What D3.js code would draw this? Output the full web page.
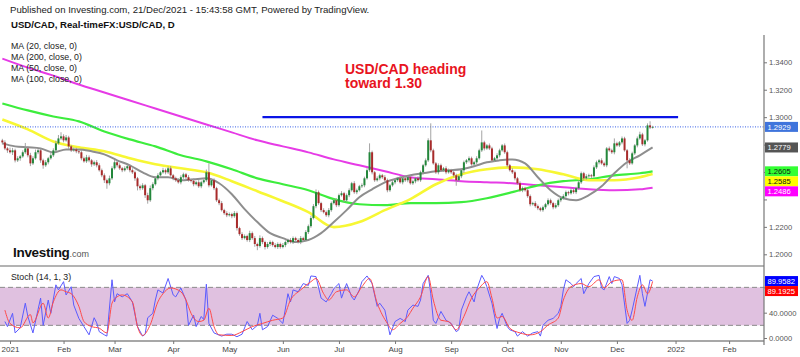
<!DOCTYPE html>
<html><head><meta charset="utf-8">
<script src="https://cdnjs.cloudflare.com/ajax/libs/d3/7.8.5/d3.min.js"></script>
<style>body{margin:0;background:#fff;}svg{display:block;font-family:"Liberation Sans",Arial,sans-serif;}</style>
</head><body><svg id="c" width="800" height="357"></svg>
<script>
// ---------------- DATA ----------------
const firstDate = "2020-12-29";
const firstOpen = 1.2830;
const closes = [
1.2816,1.2772,1.2758,1.2744,1.2758,1.2685,1.2700,1.2714,1.2744,1.2772,
1.2722,1.2663,1.2700,1.2744,1.2758,1.2685,1.2649,1.2671,1.2700,1.2722,
1.2758,1.2809,1.2845,1.2860,1.2831,1.2852,1.2787,1.2758,1.2765,1.2751,
1.2744,1.2700,1.2678,1.2707,1.2685,1.2656,1.2671,1.2649,1.2613,1.2576,
1.2540,1.2518,1.2554,1.2627,1.2671,1.2649,1.2627,1.2613,1.2627,1.2642,
1.2613,1.2598,1.2554,1.2496,
1.2482,1.2503,1.2431,1.2394,1.2482,1.2511,1.2554,1.2576,1.2598,1.2613,
1.2598,1.2627,1.2576,1.2554,1.2540,1.2525,1.2562,1.2583,1.2562,1.2540,
1.2536,1.2511,1.2525,1.2496,1.2525,1.2540,1.2598,1.2503,1.2540,1.2482,
1.2394,1.2373,1.2322,1.2300,1.2285,1.2293,1.2278,1.2300,1.2191,1.2147,
1.2118,1.2133,1.2104,1.2154,1.2118,1.2075,1.2060,1.2118,1.2089,1.2053,
1.2075,
1.2089,1.2067,1.2053,1.2075,1.2053,1.2067,1.2089,1.2104,1.2089,1.2118,
1.2104,1.2089,1.2118,1.2104,1.2162,1.2205,1.2264,1.2351,1.2453,1.2373,
1.2322,1.2307,1.2285,1.2322,1.2373,1.2394,1.2358,1.2431,1.2445,1.2394,
1.2431,1.2467,1.2518,1.2453,1.2467,1.2496,1.2503,1.2554,1.2613,1.2744,
1.2598,1.2540,1.2554,1.2576,1.2562,1.2540,1.2467,1.2503,1.2525,1.2540,
1.2554,1.2525,1.2554,
1.2540,1.2562,1.2518,1.2532,1.2554,1.2540,1.2598,1.2649,1.2685,1.2831,
1.2758,1.2663,1.2598,1.2649,1.2613,1.2627,1.2598,1.2613,1.2598,1.2576,
1.2540,1.2569,1.2613,1.2671,1.2685,1.2700,1.2656,1.2671,1.2700,1.2758,
1.2816,1.2772,1.2794,1.2772,1.2685,1.2700,1.2722,1.2758,1.2794,1.2744,
1.2649,1.2613,1.2598,1.2554,1.2518,1.2467,1.2482,1.2467,1.2424,1.2365,
1.2373,1.2351,1.2336,1.2322,
1.2343,1.2365,1.2394,1.2373,1.2343,1.2358,1.2394,1.2409,1.2424,1.2453,
1.2445,1.2467,1.2453,1.2482,1.2525,1.2591,1.2554,1.2569,1.2576,1.2569,
1.2634,1.2671,1.2685,1.2663,1.2649,1.2772,1.2758,1.2744,1.2809,1.2794,
1.2816,1.2845,1.2758,1.2685,1.2663,1.2736,1.2794,1.2845,1.2874,1.2802,
1.2831,1.2940,1.2925,1.2929];
// wick lengths above / below the candle body, in pips
const upperWickPips = [
12,15,10,20,18,12,15,10,14,40,12,18,15,20,10,14,12,16,10,22,15,20,25,30,15,18,12,10,14,12,10,15,12,18,14,10,12,16,15,12,14,12,20,15,18,12,14,10,15,12,10,14,12,10,
12,15,10,18,20,14,12,15,10,18,12,14,16,10,12,15,14,12,10,15,12,14,10,16,12,15,20,65,12,14,10,12,15,10,14,12,10,15,12,10,14,12,10,18,12,15,10,20,12,10,14,
12,10,14,12,10,15,12,10,14,12,10,12,15,10,14,12,18,15,20,12,10,14,12,15,12,10,14,12,15,10,12,14,10,15,12,10,14,12,15,65,12,10,14,12,10,15,12,10,14,12,10,15,12,
12,10,14,12,10,15,12,10,14,15,124,12,10,14,12,10,15,12,10,14,12,10,15,12,10,14,12,10,15,12,87,12,10,14,12,10,15,12,10,14,12,10,15,12,10,14,12,10,15,12,10,14,12,10,
12,10,14,12,10,15,12,10,14,12,10,15,12,10,14,12,10,15,12,10,14,12,10,15,12,10,14,12,36,12,10,14,12,10,15,12,10,14,20,12,10,15,30,8];
const lowerWickPips = [
15,12,18,10,20,15,12,18,10,12,15,20,12,10,14,18,25,12,15,10,12,14,10,12,15,10,18,12,10,14,12,15,10,12,14,18,12,15,10,14,20,40,15,12,10,15,12,14,10,12,15,12,18,30,
15,12,20,25,12,15,10,14,12,10,15,12,10,14,12,10,15,12,14,10,12,15,10,12,14,10,12,15,10,14,12,15,10,12,14,10,15,12,18,12,14,10,12,15,12,20,30,12,15,18,12,
15,12,10,14,12,10,15,12,10,14,12,10,15,12,10,14,12,10,15,12,14,10,12,15,12,10,14,12,10,15,12,14,10,12,15,10,12,14,10,12,15,12,10,14,12,10,15,12,10,14,12,10,15,
12,15,10,12,14,10,12,15,10,12,14,10,12,15,10,12,14,10,12,15,40,12,14,20,12,15,10,12,14,10,12,15,10,12,14,10,12,15,10,12,14,10,12,15,10,12,14,10,12,15,10,12,14,10,
12,14,10,12,15,10,12,14,10,12,15,10,12,14,10,12,15,10,12,14,10,12,15,10,12,14,10,12,15,10,12,14,10,58,12,10,12,14,10,12,15,10,12,8];

// moving averages, sampled at weekday indices (0 = 1 Jan 2021)
const maSlowIdx = [-3,7,17,27,37,47,57,67,77,87,97,107,117,127,137,147,157,167,177,187,197,207,217,227,237,247,252];
const ma200 = [1.3427,1.3361,1.3303,1.3238,1.3180,1.3121,1.3063,1.3005,1.2947,1.2889,1.2831,1.2787,1.2743,1.2692,1.2649,1.2605,1.2562,1.2547,1.2533,1.2525,1.2518,1.2503,1.2489,1.2474,1.2467,1.2474,1.2486];
const ma100 = [1.3100,1.3049,1.3005,1.2969,1.2896,1.2838,1.2787,1.2722,1.2678,1.2620,1.2554,1.2511,1.2467,1.2402,1.2365,1.2358,1.2373,1.2373,1.2380,1.2409,1.2453,1.2503,1.2533,1.2547,1.2576,1.2591,1.2605];
const ma50  = [1.2983,1.2911,1.2823,1.2780,1.2751,1.2700,1.2656,1.2627,1.2598,1.2533,1.2460,1.2387,1.2307,1.2198,1.2235,1.2322,1.2402,1.2511,1.2583,1.2620,1.2634,1.2620,1.2583,1.2540,1.2540,1.2562,1.2585];
const ma20Idx = [-3,2,7,12,17,22,27,32,37,42,47,52,57,62,67,72,77,82,87,92,97,102,107,112,117,122,127,132,137,142,147,152,157,162,167,172,177,182,187,192,197,202,207,212,217,222,227,232,237,242,247,252];
const ma20 = [1.2809,1.2787,1.2780,1.2772,1.2743,1.2765,1.2765,1.2751,1.2729,1.2685,1.2649,1.2598,1.2562,1.2562,1.2540,1.2547,1.2554,1.2518,1.2438,1.2329,1.2235,1.2154,1.2118,1.2089,1.2104,1.2154,1.2235,1.2322,1.2416,1.2474,1.2525,1.2554,1.2576,1.2591,1.2605,1.2613,1.2620,1.2642,1.2671,1.2685,1.2692,1.2663,1.2562,1.2467,1.2409,1.2394,1.2431,1.2496,1.2591,1.2671,1.2722,1.2779];

// stochastic (14,1,3): [weekday index, value]
const stochK = [[-2,26],[-1,18],[1,39],[2,8],[4,16],[6,55],[7,34],[9,8],[11,45],[12,63],[13,20],[15,60],[16,39],[18,84],[19,76],[21,89],[22,68],[24,81],[25,52],[27,31],[29,18],[31,5],[33,32],[34,24],[35,10],[37,5],[38,3],[40,92],[41,57],[42,70],[44,65],[46,70],[48,57],[50,18],[52,3],[53,6],[54,32],[56,39],[57,60],[58,76],[60,71],[62,94],[64,68],[65,65],[67,79],[69,60],[70,20],[72,36],[73,18],[75,34],[76,29],[77,85],[78,23],[80,8],[83,3],[85,6],[87,6],[89,2],[91,6],[93,26],[95,13],[97,20],[98,39],[99,13],[101,18],[103,36],[105,31],[107,23],[109,70],[110,57],[111,76],[113,73],[115,86],[117,83],[118,98],[120,97],[122,63],[124,57],[126,70],[127,78],[129,86],[130,63],[132,86],[134,65],[135,60],[137,76],[138,89],[140,98],[142,86],[144,50],[145,55],[147,44],[149,5],[151,26],[153,31],[155,26],[156,44],[158,52],[160,50],[161,60],[162,86],[164,99],[165,70],[166,28],[167,23],[169,42],[171,28],[173,23],[175,10],[176,13],[177,44],[179,65],[180,73],[182,57],[183,76],[185,99],[186,92],[187,81],[189,55],[191,15],[192,31],[193,39],[195,18],[196,13],[198,10],[199,3],[201,10],[203,3],[205,8],[207,10],[208,3],[209,20],[211,28],[213,31],[215,39],[216,50],[217,76],[218,92],[220,86],[221,81],[222,86],[224,94],[225,70],[227,86],[229,97],[231,99],[232,79],[233,76],[235,97],[236,86],[237,97],[239,94],[240,84],[242,23],[243,28],[244,44],[246,81],[247,99],[248,70],[249,50],[251,92],[252,89.9582]];
const stochD = [[-2,44],[0,23],[4,16],[8,37],[9,24],[13,55],[15,31.5],[17,57],[20,76],[22,73],[24,70],[27,50],[29,26],[32,18],[35,15.5],[38,8],[40,55],[42,65],[44,68],[48,57],[50,18],[52,4],[55,21],[58,57],[60,70],[63,79],[67,73],[69,60],[71,39],[74,26],[76,28],[78,47],[80,18],[82,5],[87,4],[91,10],[95,18],[99,23],[103,28],[107,31.5],[110,60],[114,76],[118,89],[120,94],[123,70],[125,60],[128,73],[132,76],[135,65],[138,81],[141,94],[144,55],[148,23],[150,13],[153,23],[156,34],[158,47],[161,65],[164,97],[166,60],[169,28],[172,26],[175,13],[178,34],[181,63],[184,79],[187,89],[189,63],[191,31.5],[193,34],[196,15.5],[200,8],[204,5],[208,10],[211,20.5],[215,31.5],[217,60],[220,81],[224,86],[227,81],[231,92],[233,79],[236,89],[240,92],[242,44],[244,28],[246,65],[248,84],[250,70],[252,89.1925]];

const priceTicks = [1.20,1.22,1.24,1.26,1.28,1.30,1.32,1.34];
const stochTicks = [0,40,80];
const stochBand = [20,80];
const monthTicks = [["2021-01-01","2021"],["2021-02-01","Feb"],["2021-03-01","Mar"],["2021-04-01","Apr"],["2021-05-03","May"],["2021-06-01","Jun"],["2021-07-01","Jul"],["2021-08-02","Aug"],["2021-09-01","Sep"],["2021-10-01","Oct"],["2021-11-01","Nov"],["2021-12-01","Dec"],["2022-01-03","2022"],["2022-02-01","Feb"]];
const resistance = [["2021-05-20",1.30],["2022-01-04",1.30]];
const legendItems = ["MA (20, close, 0)","MA (200, close, 0)","MA (50, close, 0)","MA (100, close, 0)"];
const lastPrice = 1.2929;
const lastMA = [["ma20",1.2779],["ma100",1.2605],["ma50",1.2585],["ma200",1.2486]];

// ---------------- HELPERS ----------------
function wd(s){
  const [y,m,d]=s.split("-").map(Number);
  const days=Math.round((Date.UTC(y,m-1,d)-Date.UTC(2021,0,1))/864e5);
  let n=0;
  if(days>=0){for(let k=0;k<days;k++){const w=(5+k)%7;if(w!==0&&w!==6)n++;}}
  else{for(let k=-1;k>=days;k--){const w=((5+k)%7+7)%7;if(w!==0&&w!==6)n--;}}
  return n;
}
const W=800,H=357, AX=764;
const svg=d3.select("#c");
svg.append("rect").attr("width",W).attr("height",H).attr("fill","#fff");

const x=d3.scaleLinear().domain([0,261]).range([10,675.55]);
const y=d3.scaleLinear().domain([1.20,1.34]).range([254.3,62.3]);
const ys=d3.scaleLinear().domain([0,100]).range([338,274.7]);

const defs=svg.append("defs");
defs.append("clipPath").attr("id","mainClip").append("rect").attr("x",0).attr("y",34).attr("width",AX).attr("height",231);
defs.append("clipPath").attr("id","stClip").append("rect").attr("x",0).attr("y",267).attr("width",AX).attr("height",74);

const colors={ma20:"#8e8e8e",ma200:"#e63be6",ma50:"#f7f734",ma100:"#3ded3d"};

// ---------------- MAIN PANEL ----------------
const main=svg.append("g").attr("clip-path","url(#mainClip)");
const start=wd(firstDate);
const candles=closes.map((c,j)=>{
  const o=j===0?firstOpen:closes[j-1];
  return {i:start+j,o,c,h:Math.max(o,c)+upperWickPips[j]/1e4,l:Math.min(o,c)-lowerWickPips[j]/1e4};
});

function maLine(idx,vals,key,w){
  main.append("path").datum(idx.map((d,k)=>[d,vals[k]]))
   .attr("d",d3.line().x(d=>x(d[0])).y(d=>y(d[1])).curve(d3.curveMonotoneX))
   .attr("fill","none").attr("stroke",colors[key]).attr("stroke-width",w);
}
maLine(maSlowIdx,ma200,"ma200",2);
maLine(maSlowIdx,ma100,"ma100",2.2);
maLine(maSlowIdx,ma50,"ma50",2.6);
maLine(ma20Idx,ma20,"ma20",2);

main.append("line").attr("x1",0).attr("x2",AX).attr("y1",y(lastPrice)).attr("y2",y(lastPrice))
  .attr("stroke","#3a62e6").attr("stroke-width",1).attr("stroke-dasharray","1,1.5");

const cg=main.append("g");
cg.selectAll("line.w").data(candles).join("line").attr("class","w")
  .attr("x1",d=>x(d.i)).attr("x2",d=>x(d.i)).attr("y1",d=>y(d.h)).attr("y2",d=>y(d.l))
  .attr("stroke","#9a9a9a").attr("stroke-width",0.9);
cg.selectAll("rect").data(candles).join("rect")
  .attr("x",d=>x(d.i)-1).attr("width",2)
  .attr("y",d=>y(Math.max(d.o,d.c)))
  .attr("height",d=>Math.max(0.8,Math.abs(y(d.o)-y(d.c))))
  .attr("fill",d=>d.c>=d.o?"#23873b":"#a82b2b");

svg.append("line").attr("x1",x(wd(resistance[0][0]))).attr("x2",x(wd(resistance[1][0])))
  .attr("y1",y(resistance[0][1])).attr("y2",y(resistance[1][1]))
  .attr("stroke","#0a14e6").attr("stroke-width",2.4);

const ann=svg.append("text").attr("fill","#e8141e").attr("font-weight","bold").attr("font-size",14);
ann.append("tspan").attr("x",345).attr("y",73.5).text("USD/CAD heading");
ann.append("tspan").attr("x",345).attr("y",88).text("toward 1.30");

// ---------------- STOCH PANEL ----------------
const st=svg.append("g").attr("clip-path","url(#stClip)");
st.append("rect").attr("x",0).attr("width",AX).attr("y",ys(stochBand[1])).attr("height",ys(stochBand[0])-ys(stochBand[1])).attr("fill","#e0c1e0");
stochBand.forEach(v=>st.append("line").attr("x1",0).attr("x2",AX).attr("y1",ys(v)).attr("y2",ys(v))
  .attr("stroke","#8a8a8a").attr("stroke-width",1).attr("stroke-dasharray","5,3"));
const sl=d3.line().x(d=>x(d[0])).y(d=>ys(d[1]));
st.append("path").datum(stochK).attr("d",sl).attr("fill","none").attr("stroke","#5b5bff").attr("stroke-width",1);
st.append("path").datum(stochD).attr("d",sl.curve(d3.curveMonotoneX)).attr("fill","none").attr("stroke","#ff4a4a").attr("stroke-width",1);

// ---------------- FRAME / AXES ----------------
svg.append("line").attr("x1",0).attr("x2",AX).attr("y1",266).attr("y2",266).attr("stroke","#9a9a9a").attr("stroke-width",1.5);
svg.append("line").attr("x1",0).attr("x2",AX).attr("y1",341).attr("y2",341).attr("stroke","#8a8a8a").attr("stroke-width",1.5);
svg.append("line").attr("x1",AX).attr("x2",AX).attr("y1",35).attr("y2",345).attr("stroke","#777").attr("stroke-width",1.2);

// value boxes (simple collision avoidance), computed first so covered tick labels can be hidden
function layoutBoxes(items,minGap){
  items.sort((a,b)=>a.y-b.y);
  for(let k=1;k<items.length;k++) if(items[k].y-items[k-1].y<minGap) items[k].y=items[k-1].y+minGap;
  return items;
}
const maBg={ma20:["#555","#fff"],ma100:["#33ff33","#111"],ma50:["#ffff00","#111"],ma200:["#ff00ff","#fff"]};
const priceBoxes=layoutBoxes([{y:y(lastPrice),bg:"#3f74dc",fg:"#fff",txt:lastPrice.toFixed(4)}]
  .concat(lastMA.map(d=>({y:y(d[1]),bg:maBg[d[0]][0],fg:maBg[d[0]][1],txt:d[1].toFixed(4)}))),10);
const lk=stochK[stochK.length-1][1], ld=stochD[stochD.length-1][1];
const stBoxes=layoutBoxes([{y:ys(lk),bg:"#0000ff",fg:"#fff",txt:lk.toFixed(4)},{y:ys(ld),bg:"#ff0000",fg:"#fff",txt:ld.toFixed(4)}],10);
const covered=(py,bx)=>bx.some(b=>Math.abs(b.y-py)<9);

const pa=svg.append("g").attr("transform",`translate(${AX},0)`)
  .call(d3.axisRight(y).tickValues(priceTicks).tickFormat(d3.format(".4f")).tickSize(3).tickPadding(2));
pa.select(".domain").remove();
pa.selectAll("text").attr("font-size",7.6).attr("fill","#555").attr("font-family","Liberation Sans, Arial")
  .filter(d=>covered(y(d),priceBoxes)).remove();
pa.selectAll("line").attr("stroke","#777");

const sa=svg.append("g").attr("transform",`translate(${AX},0)`)
  .call(d3.axisRight(ys).tickValues(stochTicks).tickFormat(d3.format(".4f")).tickSize(3).tickPadding(2));
sa.select(".domain").remove();
sa.selectAll("text").attr("font-size",7.6).attr("fill","#555").attr("font-family","Liberation Sans, Arial")
  .filter(d=>covered(ys(d),stBoxes)).remove();
sa.selectAll("line").attr("stroke","#777");

const xa=svg.append("g").attr("transform","translate(0,341)")
  .call(d3.axisBottom(x).tickValues(monthTicks.map(d=>wd(d[0]))).tickFormat((d,k)=>monthTicks[k][1]).tickSize(3).tickPadding(2));
xa.select(".domain").remove();
xa.selectAll("text").attr("font-size",8).attr("fill","#444").attr("font-family","Liberation Sans, Arial");
xa.selectAll("line").attr("stroke","#777");

function drawBoxes(items){
  items.forEach(b=>{
    svg.append("rect").attr("x",AX+1).attr("y",b.y-5).attr("width",33).attr("height",10).attr("fill",b.bg);
    svg.append("text").attr("x",AX+3.5).attr("y",b.y+2.8).attr("font-size",7.6).attr("fill",b.fg).text(b.txt);
  });
}
drawBoxes(priceBoxes);
drawBoxes(stBoxes);

// ---------------- TEXTS ----------------
svg.append("text").attr("x",10).attr("y",13).attr("font-size",9.6).attr("fill","#222")
  .text("Published on Investing.com, 21/Dec/2021 - 15:43:58 GMT, Powered by TradingView.");
svg.append("text").attr("x",11).attr("y",28).attr("font-size",9.6).attr("font-weight","bold").attr("fill","#111")
  .text("USD/CAD, Real-timeFX:USD/CAD, D");
legendItems.forEach((t,k)=>svg.append("text").attr("x",11).attr("y",48.5+k*11).attr("font-size",8.8).attr("fill","#222").text(t));
svg.append("text").attr("x",11).attr("y",280).attr("font-size",8.8).attr("fill","#222").text("Stoch (14, 1, 3)");
const logo=svg.append("text").attr("x",13).attr("y",257);
logo.append("tspan").attr("font-size",13.5).attr("font-weight","bold").attr("fill","#111").attr("letter-spacing",-0.3).text("Investing");
logo.append("tspan").attr("font-size",9).attr("fill","#555").text(".com");
</script></body></html>
